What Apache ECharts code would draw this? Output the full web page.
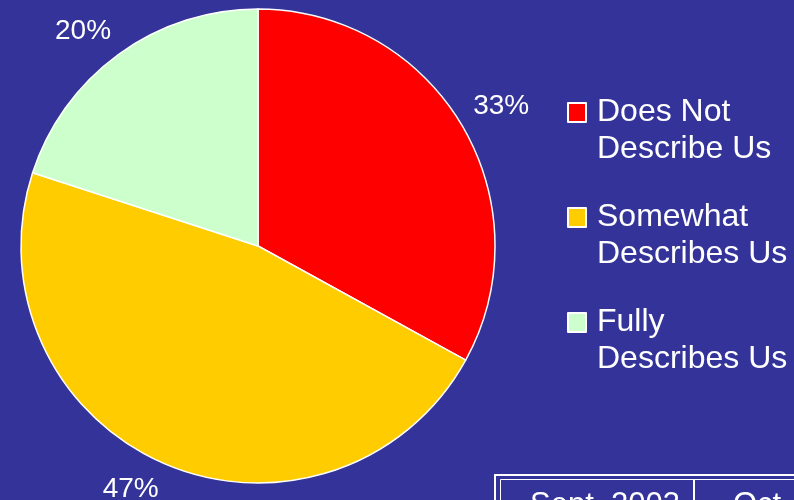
<!DOCTYPE html>
<html>
<head>
<meta charset="utf-8">
<script src="https://cdn.jsdelivr.net/npm/echarts@6/dist/echarts.min.js"></script>
<style>
  html, body { margin: 0; padding: 0; background: #333399; }
  #chart { width: 794px; height: 500px; }
</style>
</head>
<body>
<div id="chart"></div>
<script>
// slice names and shares (percent)
var categories = ['Does Not\nDescribe Us', 'Somewhat\nDescribes Us', 'Fully\nDescribes Us']
var values = [33, 47, 20]
var colors = ['#FF0000', '#FFCC00', '#CCFFCC']
var tableHeaders = ['Sept. 2003', 'Oct. 2003']

var cx = 258
var cy = 246
var radius = 237
var labelGap = 250 // label box corner sits this far from the centre
var fontFamily = '"Liberation Sans", Arial, sans-serif'

var total = values.reduce(function (a, b) { return a + b }, 0)

var chart = echarts.init(document.getElementById('chart'))

chart.setOption({
  backgroundColor: '#333399',
  animation: false,
  color: colors,
  legend: {
    orient: 'vertical',
    left: 567,
    top: 57,
    padding: 0,
    itemWidth: 18,
    itemHeight: 19,
    itemGap: -6,
    icon: 'rect',
    // empty first line so the square lines up with the first text line
    formatter: function (name) {
      return '\n' + name.split('\n').map(function (l) {
        return '{s|}' + l
      }).join('\n')
    },
    textStyle: {
      color: '#fff',
      fontSize: 32,
      fontFamily: fontFamily,
      lineHeight: 37,
      rich: {
        s: { width: 6 }
      }
    }
  },
  series: [{
    type: 'pie',
    center: [cx, cy],
    radius: radius,
    startAngle: 90,
    clockwise: true,
    itemStyle: {
      borderColor: '#fff',
      borderWidth: 1.5
    },
    label: {
      show: true,
      position: 'outside',
      color: '#fff',
      fontSize: 28,
      fontFamily: fontFamily,
      formatter: '{c}%'
    },
    labelLine: { show: false, length: 15, length2: 0 },
    labelLayout: function (p) {
      var before = 0
      for (var i = 0; i < p.dataIndex; i++) before += values[i]
      var mid = (before + values[p.dataIndex] / 2) / total * Math.PI * 2
      var s = Math.sin(mid)
      var c = Math.cos(mid)
      var x = cx + labelGap * s
      var y = cy - labelGap * c
      var w = p.labelRect.width
      var h = p.labelRect.height
      return {
        x: s >= 0 ? x + w / 2 : x - w / 2,
        y: c >= 0 ? y - h / 2 + 2 : y + h / 2,
        align: 'center',
        verticalAlign: 'middle'
      }
    },
    data: categories.map(function (name, i) {
      return { name: name, value: values[i] }
    })
  }],
  graphic: [
    {
      type: 'rect',
      shape: { x: 495, y: 475, width: 400, height: 100 },
      style: { fill: 'none', stroke: '#fff', lineWidth: 2 }
    },
    {
      type: 'rect',
      shape: { x: 500.5, y: 479.5, width: 400, height: 100 },
      style: { fill: 'none', stroke: '#fff', lineWidth: 1 }
    },
    {
      type: 'line',
      shape: { x1: 694, y1: 480, x2: 694, y2: 520 },
      style: { stroke: '#fff', lineWidth: 2 }
    },
    {
      type: 'text',
      left: 530,
      top: 490,
      style: { text: tableHeaders[0], fill: '#fff', font: '31px ' + fontFamily }
    },
    {
      type: 'text',
      left: 733,
      top: 490,
      style: { text: tableHeaders[1], fill: '#fff', font: '31px ' + fontFamily }
    }
  ]
})
</script>
</body>
</html>
